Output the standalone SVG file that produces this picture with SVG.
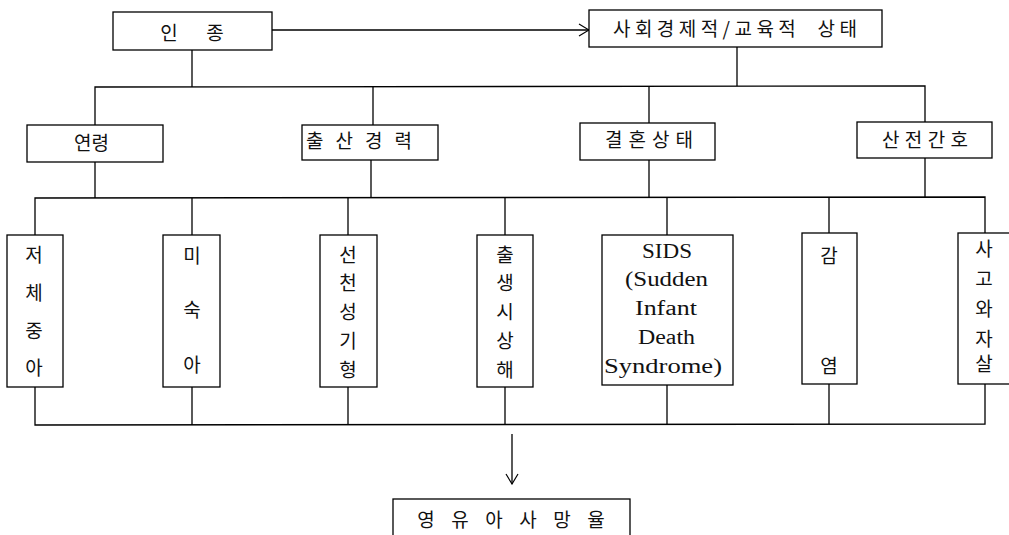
<svg xmlns="http://www.w3.org/2000/svg" width="1009" height="535" viewBox="0 0 1009 535">
<defs>
<marker id="arr" markerWidth="12" markerHeight="14" refX="11" refY="7" orient="auto" markerUnits="userSpaceOnUse">
<path d="M1,1 L11,7 L1,13" fill="none" stroke="#000" stroke-width="1.2"/>
</marker>
<style>
.box{fill:#fff;stroke:#000;stroke-width:1.3}
.ln{fill:none;stroke:#000;stroke-width:1.3}
.k{font-family:"Noto Sans CJK KR","Noto Sans",sans-serif;font-size:19px;fill:#111;text-anchor:middle}
.e{font-family:"Liberation Serif",serif;font-size:20px;fill:#111;text-anchor:start}
.st{text-anchor:start}
</style>
</defs>
<rect width="1009" height="535" fill="#fff"/>
<g id="connectors">
<line class="ln" x1="272" y1="30" x2="589" y2="30" marker-end="url(#arr)"/>
<line class="ln" x1="192" y1="50" x2="192" y2="87"/>
<line class="ln" x1="737" y1="47" x2="737" y2="86"/>
<polyline class="ln" points="95,125 95,87 925,86 925,122"/>
<line class="ln" x1="373" y1="87" x2="373" y2="125"/>
<line class="ln" x1="649" y1="86" x2="649" y2="123"/>
<line class="ln" x1="95" y1="162" x2="95" y2="198"/>
<line class="ln" x1="371" y1="160" x2="371" y2="198"/>
<line class="ln" x1="649" y1="160" x2="649" y2="197"/>
<line class="ln" x1="925" y1="158" x2="925" y2="197"/>
<polyline class="ln" points="35,235 35,198 985,197 985,233"/>
<line class="ln" x1="192" y1="198" x2="192" y2="235"/>
<line class="ln" x1="348" y1="198" x2="348" y2="235"/>
<line class="ln" x1="505" y1="198" x2="505" y2="235"/>
<line class="ln" x1="667" y1="197" x2="667" y2="235"/>
<line class="ln" x1="829" y1="197" x2="829" y2="233"/>
<polyline class="ln" points="35,387 35,425 985,424 985,384"/>
<line class="ln" x1="192" y1="387" x2="192" y2="425"/>
<line class="ln" x1="348" y1="387" x2="348" y2="425"/>
<line class="ln" x1="505" y1="387" x2="505" y2="425"/>
<line class="ln" x1="667" y1="385" x2="667" y2="425"/>
<line class="ln" x1="829" y1="384" x2="829" y2="424"/>
<line class="ln" x1="512" y1="434" x2="512" y2="484" marker-end="url(#arr)"/>
</g>
<g id="race"><rect class="box" x="113" y="12" width="159" height="38"/><text class="k" y="40"><tspan x="169">인</tspan><tspan x="215">종</tspan></text></g>
<g id="ses"><rect class="box" x="589" y="10" width="293" height="37"/><text class="k st" x="613" y="36" textLength="244" lengthAdjust="spacing" xml:space="preserve">사회경제적/교육적  상태</text></g>
<g id="age"><rect class="box" x="27" y="125" width="136" height="37"/><text class="k st" x="74" y="150" textLength="35" lengthAdjust="spacing">연령</text></g>
<g id="parity"><rect class="box" x="302" y="125" width="136" height="35"/><text class="k st" x="306" y="148" textLength="106" lengthAdjust="spacing">출산경력</text></g>
<g id="marital"><rect class="box" x="580" y="123" width="135" height="37"/><text class="k st" x="605" y="147" textLength="88" lengthAdjust="spacing">결혼상태</text></g>
<g id="prenatal"><rect class="box" x="857" y="122" width="135" height="36"/><text class="k st" x="882" y="147" textLength="86" lengthAdjust="spacing">산전간호</text></g>
<g id="lbw"><rect class="box" x="7" y="235" width="56" height="152"/>
<text class="k"><tspan x="34" y="262">저</tspan><tspan x="34" y="300">체</tspan><tspan x="34" y="338">중</tspan><tspan x="34" y="375">아</tspan></text></g>
<g id="preterm"><rect class="box" x="163" y="235" width="57" height="152"/>
<text class="k"><tspan x="192" y="263">미</tspan><tspan x="192" y="317">숙</tspan><tspan x="192" y="372">아</tspan></text></g>
<g id="congenital"><rect class="box" x="320" y="235" width="57" height="152"/>
<text class="k"><tspan x="348" y="262">선</tspan><tspan x="348" y="290">천</tspan><tspan x="348" y="319">성</tspan><tspan x="348" y="348">기</tspan><tspan x="348" y="377">형</tspan></text></g>
<g id="birthinjury"><rect class="box" x="477" y="235" width="56" height="152"/>
<text class="k"><tspan x="505" y="262">출</tspan><tspan x="505" y="290">생</tspan><tspan x="505" y="319">시</tspan><tspan x="505" y="348">상</tspan><tspan x="505" y="377">해</tspan></text></g>
<g id="sids"><rect class="box" x="602" y="235" width="131" height="150"/>
<text class="e" x="642" y="258" textLength="50" lengthAdjust="spacingAndGlyphs">SIDS</text>
<text class="e" x="625" y="286" textLength="83" lengthAdjust="spacingAndGlyphs">(Sudden</text>
<text class="e" x="635" y="315" textLength="62" lengthAdjust="spacingAndGlyphs">Infant</text>
<text class="e" x="638" y="344" textLength="57" lengthAdjust="spacingAndGlyphs">Death</text>
<text class="e" x="604" y="373" textLength="118" lengthAdjust="spacingAndGlyphs">Syndrome)</text></g>
<g id="infection"><rect class="box" x="802" y="233" width="55" height="151"/>
<text class="k"><tspan x="829" y="263">감</tspan><tspan x="829" y="373">염</tspan></text></g>
<g id="accident"><rect class="box" x="958" y="233" width="60" height="151"/>
<text class="k"><tspan x="984" y="256">사</tspan><tspan x="984" y="286">고</tspan><tspan x="984" y="316">와</tspan><tspan x="984" y="346">자</tspan><tspan x="984" y="371">살</tspan></text></g>
<g id="mortality"><rect class="box" x="393" y="499" width="237" height="50"/><text class="k" y="527"><tspan x="426">영</tspan><tspan x="460">유</tspan><tspan x="494">아</tspan><tspan x="528">사</tspan><tspan x="562">망</tspan><tspan x="596">율</tspan></text></g>
</svg>
